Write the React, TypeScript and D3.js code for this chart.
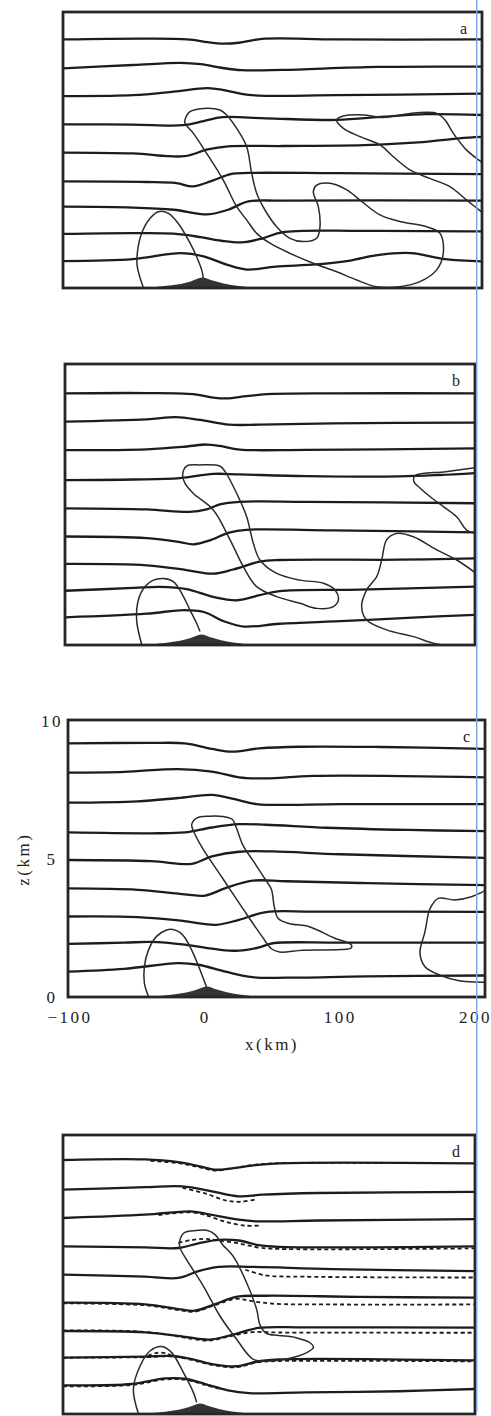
import React from 'react';
import * as d3 from 'd3';

type Pt = [number, number];

// ---------- axes ----------
const X_DOMAIN: [number, number] = [-101.5, 207];
const Z_DOMAIN: [number, number] = [0, 10.05];
const X_TICKS = [-100, 0, 100, 200];
const X_TICK_LABELS = ['−100', '0', '100', '200'];
const Z_TICKS = [0, 5, 10];
const Z_TICK_LABELS = ['0', '5', '10'];
const PANEL_LETTERS = ['a', 'b', 'c', 'd'];

// ---------- terrain (km) ----------
const MOUNTAIN: Pt[] = [[-42, 0], [-35, 0.03], [-25, 0.08], [-15, 0.15], [-7, 0.25], [1, 0.38], [8, 0.28], [16, 0.17], [25, 0.09], [34, 0.04], [42, 0]];

// ---------- panel a ----------
const A_ISEN: Pt[][] = [
  [[-101.5, 9.05], [-40, 9.08], [-10, 9.05], [5, 8.95], [15, 8.9], [28, 8.93], [45, 9.07], [100, 9.05], [207, 9.05]],
  [[-101.5, 8.0], [-50, 8.12], [-15, 8.2], [0, 8.15], [15, 8.02], [30, 7.93], [60, 7.94], [130, 8.05], [207, 8.06]],
  [[-101.5, 6.99], [-50, 7.02], [-20, 7.15], [5, 7.28], [18, 7.2], [35, 7.03], [100, 7.02], [207, 7.08]],
  [[-101.5, 5.96], [-50, 5.95], [-13, 5.93], [2, 6.08], [16, 6.22], [48, 6.18], [100, 6.12], [135, 6.24], [166, 6.33], [207, 6.3]],
  [[-101.5, 4.93], [-50, 4.9], [-12, 4.8], [5, 5.05], [20, 5.16], [60, 5.17], [120, 5.2], [160, 5.3], [190, 5.45], [207, 5.5]],
  [[-101.5, 3.88], [-40, 3.86], [-18, 3.82], [-6, 3.7], [8, 3.9], [22, 4.15], [35, 4.19], [100, 4.18], [207, 4.15]],
  [[-101.5, 2.96], [-50, 2.93], [-20, 2.85], [5, 2.68], [20, 2.85], [35, 3.15], [60, 3.18], [207, 3.18]],
  [[-101.5, 1.97], [-50, 2.0], [-20, 1.98], [0, 1.85], [15, 1.72], [30, 1.66], [45, 1.8], [60, 2.03], [120, 2.08], [207, 2.06]],
  [[-101.5, 0.98], [-50, 1.05], [-15, 1.27], [2, 1.15], [19, 0.85], [34, 0.67], [55, 0.78], [85, 0.86], [110, 1.0], [130, 1.2], [155, 1.27], [180, 1.05], [207, 0.97]],
];
const A_CLOUDS_CLOSED: Pt[][] = [
  [[-11.7, 6.12], [-8, 6.42], [1.8, 6.54], [14.1, 6.48], [19, 6.3], [26.4, 5.81], [33.7, 5.15], [37.4, 4.18], [41.1, 3.45], [47.2, 2.84], [55.8, 2.23], [65.6, 1.81], [75.5, 1.69], [85.3, 1.81], [87.7, 2.23], [86.5, 2.96], [82.8, 3.51], [85.3, 3.75], [95.1, 3.81], [107.4, 3.57], [117.2, 3.2], [131.9, 2.66], [146.6, 2.42], [166.3, 2.23], [176.1, 1.99], [178.5, 1.26], [173.6, 0.66], [161.3, 0.23], [146.6, 0.05], [129.4, 0.05], [114.7, 0.29], [100, 0.59], [82.8, 0.9], [65.6, 1.26], [50.9, 1.63], [41.1, 1.99], [33.7, 2.48], [26.4, 2.96], [16.5, 3.93], [4.3, 4.9], [-5.5, 5.63], [-11.7, 6.0]],
];
const A_CLOUDS_OPEN: Pt[][] = [
  [[-42.4, 0.02], [-46.8, 0.78], [-46.8, 1.26], [-43.6, 1.99], [-37.4, 2.54], [-31.3, 2.78], [-23.9, 2.72], [-16.6, 2.35], [-9.2, 1.75], [-3.1, 1.14], [0.6, 0.66], [1.8, 0.37]],
  [[208, 4.54], [195.7, 5.02], [185.9, 5.63], [179.8, 6.12], [173.6, 6.36], [158.9, 6.38], [146.6, 6.3], [134.4, 6.21], [119.6, 6.3], [104.9, 6.26], [100, 6.12], [104.9, 5.81], [117.2, 5.51], [131.9, 5.21], [141.7, 4.78], [153.9, 4.3], [168.6, 3.99], [183.4, 3.69], [195.7, 3.2], [208, 2.72]],
];

// ---------- panel b ----------
const B_ISEN: Pt[][] = [
  [[-101.5, 9.0], [-40, 9.01], [-5, 8.97], [10, 8.85], [20, 8.82], [35, 8.9], [50, 8.97], [100, 9.0], [207, 9.0]],
  [[-101.5, 7.99], [-40, 8.07], [-18, 8.15], [0, 8.05], [22, 7.88], [45, 7.88], [100, 7.93], [207, 7.95]],
  [[-101.5, 6.97], [-40, 7.0], [-10, 7.1], [5, 7.17], [15, 7.12], [30, 6.99], [80, 6.98], [207, 7.03]],
  [[-101.5, 5.9], [-50, 5.92], [-15, 5.97], [10, 6.12], [30, 6.1], [80, 6.04], [150, 6.03], [180, 6.08], [207, 6.15]],
  [[-101.5, 4.89], [-40, 4.85], [-8, 4.76], [5, 4.85], [15, 5.03], [30, 5.12], [80, 5.12], [207, 5.07]],
  [[-101.5, 3.88], [-40, 3.82], [-15, 3.68], [-5, 3.6], [8, 3.75], [22, 4.02], [35, 4.12], [100, 4.1], [207, 4.03]],
  [[-101.5, 2.9], [-40, 2.85], [-10, 2.68], [10, 2.55], [25, 2.7], [45, 2.98], [60, 3.04], [150, 3.05], [207, 3.1]],
  [[-101.5, 1.94], [-50, 2.04], [-30, 2.08], [-10, 2.0], [10, 1.72], [28, 1.6], [45, 1.78], [60, 1.93], [120, 1.98], [207, 2.09]],
  [[-101.5, 0.99], [-40, 1.12], [-12, 1.25], [3, 1.18], [18, 0.85], [33, 0.66], [60, 0.76], [110, 0.86], [160, 0.98], [207, 1.08]],
];
const B_CLOUDS_CLOSED: Pt[][] = [
  [[-13, 6.08], [-10, 6.4], [0, 6.44], [15, 6.4], [19, 6.2], [27.7, 5.42], [35.2, 4.59], [40.2, 3.64], [45.2, 3.04], [57.8, 2.56], [75.3, 2.32], [92.9, 2.21], [101.7, 1.97], [104.2, 1.61], [100.4, 1.37], [87.9, 1.31], [75.3, 1.49], [57.8, 1.73], [42.7, 2.09], [32.7, 2.8], [22.7, 3.76], [10.1, 4.83], [-4.9, 5.42], [-11.2, 5.78]],
];
const B_CLOUDS_OPEN: Pt[][] = [
  [[-43.8, 0.02], [-47.6, 0.89], [-46.3, 1.61], [-41.3, 2.09], [-35, 2.32], [-27.5, 2.38], [-20, 2.27], [-13.7, 1.85], [-7.4, 1.25], [-2.4, 0.77], [0.1, 0.48]],
  [[208, 6.35], [185, 6.2], [162, 6.06], [161, 5.85], [166, 5.6], [173.1, 5.31], [183.2, 4.95], [193.2, 4.59], [200.7, 4.11], [208, 3.99]],
  [[208, 2.56], [193.2, 3.04], [178.2, 3.4], [160.6, 3.87], [148, 3.99], [140.5, 3.76], [136.8, 3.04], [133, 2.44], [125.5, 1.97], [121.7, 1.37], [125.5, 0.89], [140.5, 0.54], [160.6, 0.3], [175.6, 0.06], [183.2, 0]],
];

// ---------- panel c ----------
const C_ISEN: Pt[][] = [
  [[-101.5, 9.2], [-40, 9.22], [-15, 9.2], [5, 9.0], [20, 8.9], [40, 9.02], [70, 9.08], [130, 9.07], [207, 9.0]],
  [[-101.5, 8.14], [-60, 8.17], [-20, 8.27], [5, 8.18], [25, 7.97], [45, 7.93], [80, 8.02], [207, 7.97]],
  [[-101.5, 7.05], [-50, 7.1], [-20, 7.22], [5, 7.33], [20, 7.2], [38, 7.0], [100, 7.0], [207, 7.0]],
  [[-101.5, 5.97], [-40, 5.94], [-15, 5.97], [5, 6.15], [25, 6.27], [45, 6.25], [90, 6.14], [150, 6.06], [207, 6.02]],
  [[-101.5, 4.97], [-40, 4.93], [-10, 4.83], [5, 5.1], [25, 5.27], [50, 5.28], [100, 5.18], [207, 5.05]],
  [[-101.5, 3.94], [-50, 3.89], [-20, 3.75], [0, 3.68], [15, 3.95], [35, 4.22], [60, 4.2], [120, 4.13], [207, 4.06]],
  [[-101.5, 2.92], [-50, 2.9], [-20, 2.78], [8, 2.62], [25, 2.8], [45, 3.08], [80, 3.1], [207, 3.09]],
  [[-101.5, 1.93], [-60, 1.97], [-40, 2.0], [-15, 1.9], [10, 1.72], [25, 1.68], [40, 1.8], [50, 1.95], [100, 1.97], [207, 1.97]],
  [[-101.5, 0.92], [-60, 1.02], [-20, 1.23], [-5, 1.17], [15, 0.92], [35, 0.72], [60, 0.7], [120, 0.75], [207, 0.78]],
];
const C_CLOUDS_CLOSED: Pt[][] = [
  [[-10, 6.25], [-6, 6.5], [3, 6.56], [13, 6.55], [20, 6.45], [23, 6.15], [28, 5.5], [36, 4.9], [44, 4.3], [49, 3.9], [51, 3.3], [54, 2.85], [62, 2.67], [77, 2.55], [95, 2.15], [108, 1.9], [108, 1.78], [100, 1.72], [72, 1.7], [55, 1.63], [49, 1.75], [42, 2.2], [30, 3.05], [13, 4.3], [-2, 5.4], [-8, 5.95]],
];
const C_CLOUDS_OPEN: Pt[][] = [
  [[-42, 0.02], [-45, 0.5], [-45, 1.1], [-42, 1.7], [-36, 2.2], [-29, 2.42], [-24, 2.45], [-19, 2.35], [-15, 2.15], [-10, 1.7], [-6, 1.25], [-2, 0.75], [1, 0.35]],
  [[208, 3.88], [196.9, 3.64], [184.7, 3.52], [172.4, 3.58], [166.3, 3.2], [162.6, 2.37], [158.9, 1.6], [162.6, 1.1], [174.8, 0.77], [187, 0.6], [199.4, 0.54], [208, 0.54]],
];

// ---------- panel d ----------
const D_ISEN: Pt[][] = [
  [[-101.5, 9.15], [-40, 9.17], [-15, 9.07], [0, 8.93], [13, 8.8], [25, 8.85], [40, 8.95], [60, 9.03], [207, 9.03]],
  [[-101.5, 8.08], [-40, 8.17], [-12, 8.2], [10, 8.02], [30, 7.84], [48, 7.9], [90, 7.96], [207, 8.0]],
  [[-101.5, 7.06], [-40, 7.18], [-6, 7.3], [5, 7.22], [30, 7.0], [43, 6.94], [90, 6.97], [207, 7.02]],
  [[-101.5, 6.04], [-40, 6.0], [-15, 5.98], [0, 6.15], [15, 6.27], [30, 6.25], [45, 6.08], [60, 6.02], [207, 6.04]],
  [[-101.5, 5.02], [-40, 4.95], [-15, 4.9], [0, 5.15], [15, 5.3], [40, 5.3], [100, 5.22], [207, 5.15]],
  [[-101.5, 4.01], [-40, 3.95], [-15, 3.78], [-3, 3.72], [12, 3.95], [28, 4.22], [50, 4.26], [120, 4.22], [207, 4.19]],
  [[-101.5, 2.99], [-40, 2.94], [-10, 2.78], [8, 2.68], [25, 2.85], [45, 3.1], [80, 3.12], [207, 3.11]],
  [[-101.5, 2.03], [-40, 2.07], [-20, 2.09], [-5, 1.98], [10, 1.8], [28, 1.72], [45, 1.9], [60, 1.97], [207, 1.93]],
  [[-101.5, 1.03], [-50, 1.08], [-25, 1.28], [-10, 1.27], [5, 1.08], [22, 0.85], [38, 0.75], [80, 0.78], [150, 0.82], [207, 0.9]],
];
const D_DASHED: Pt[][] = [
  [[-36, 9.17], [-15, 9.09], [0, 8.95], [13, 8.82], [25, 8.9], [40, 9.02], [60, 9.09], [138, 9.09]],
  [[-12, 8.2], [5, 8.0], [20, 7.75], [32, 7.7], [42, 7.78]],
  [[-30, 7.22], [-6, 7.32], [5, 7.22], [20, 6.98], [35, 6.84], [45, 6.84]],
  [[-15, 6.22], [-5, 6.32], [5, 6.36], [15, 6.3], [30, 6.2], [45, 6.05], [60, 6.0], [207, 6.02]],
  [[35, 5.25], [50, 5.05], [80, 5.0], [207, 4.97]],
  [[-101.5, 4.04], [-40, 3.97], [-15, 3.8], [-3, 3.74], [12, 3.97], [28, 4.2], [40, 4.12], [55, 4.03], [100, 4.0], [207, 4.0]],
  [[-101.5, 3.06], [-50, 3.04], [-25, 2.93], [-10, 2.8], [8, 2.7], [25, 2.87], [40, 3.0], [60, 2.99], [207, 2.98]],
  [[-101.5, 2.08], [-40, 2.1], [-20, 2.13], [-5, 2.0], [10, 1.82], [28, 1.74], [45, 1.92], [60, 1.96], [207, 1.95]],
  [[-101.5, 1.05], [-50, 1.1], [-25, 1.3], [-10, 1.29], [5, 1.1], [15, 0.97]],
  [[-38, 2.15], [-32, 2.25], [-25, 2.25], [-20, 2.15]],
];
const D_CLOUDS_CLOSED: Pt[][] = [
  [[-14, 6.25], [-11, 6.52], [-4, 6.6], [6, 6.62], [12, 6.48], [18, 6.1], [26, 5.68], [36, 4.73], [43.5, 3.77], [46, 3.2], [51, 2.9], [60, 2.83], [73, 2.75], [84, 2.55], [86, 2.4], [81, 2.21], [66, 1.98], [53, 1.91], [41, 1.97], [28.5, 2.69], [16, 3.53], [3.6, 4.61], [-9, 5.56], [-14, 6.0]],
];
const D_CLOUDS_OPEN: Pt[][] = [
  [[-45.1, 0.02], [-48.8, 0.9], [-43.8, 1.73], [-36.4, 2.27], [-27.6, 2.43], [-20.1, 2.21], [-11.4, 1.5], [-3.9, 0.78], [-1.4, 0.42]],
];

interface Box { l: number; r: number; t: number; b: number; }
interface PanelSpec {
  letter: string; box: Box; isen: Pt[][]; dashed: Pt[][];
  closed: Pt[][]; open: Pt[][]; axes: boolean;
}

const PANELS: PanelSpec[] = [
  { letter: PANEL_LETTERS[0], box: { l: 63, r: 482, t: 12, b: 288 }, isen: A_ISEN, dashed: [], closed: A_CLOUDS_CLOSED, open: A_CLOUDS_OPEN, axes: false },
  { letter: PANEL_LETTERS[1], box: { l: 65, r: 475, t: 364, b: 645 }, isen: B_ISEN, dashed: [], closed: B_CLOUDS_CLOSED, open: B_CLOUDS_OPEN, axes: false },
  { letter: PANEL_LETTERS[2], box: { l: 68, r: 485, t: 720, b: 997 }, isen: C_ISEN, dashed: [], closed: C_CLOUDS_CLOSED, open: C_CLOUDS_OPEN, axes: true },
  { letter: PANEL_LETTERS[3], box: { l: 63, r: 475, t: 1135, b: 1414 }, isen: D_ISEN, dashed: D_DASHED, closed: D_CLOUDS_CLOSED, open: D_CLOUDS_OPEN, axes: false },
];

const FONT = '"Liberation Serif", "Times New Roman", serif';
const INK = '#1c1c1c';

function Panel({ p, idx }: { p: PanelSpec; idx: number }) {
  const { box } = p;
  const xs = d3.scaleLinear().domain(X_DOMAIN).range([box.l, box.r]);
  const zs = d3.scaleLinear().domain(Z_DOMAIN).range([box.b, box.t]);
  const isenLine = d3.line<Pt>().x(d => xs(d[0])).y(d => zs(d[1])).curve(d3.curveCatmullRom.alpha(0.5));
  const openLine = d3.line<Pt>().x(d => xs(d[0])).y(d => zs(d[1])).curve(d3.curveCatmullRom.alpha(0.5));
  const closedLine = d3.line<Pt>().x(d => xs(d[0])).y(d => zs(d[1])).curve(d3.curveCatmullRomClosed.alpha(0.5));
  const mountainArea = d3.area<Pt>().x(d => xs(d[0])).y0(zs(0)).y1(d => zs(d[1])).curve(d3.curveMonotoneX);
  const clipId = `clip-${idx}`;
  return (
    <g>
      <defs>
        <clipPath id={clipId}>
          <rect x={box.l} y={box.t} width={box.r - box.l} height={box.b - box.t} />
        </clipPath>
      </defs>
      <g clipPath={`url(#${clipId})`}>
        <path d={mountainArea(MOUNTAIN) || ''} fill="#333" />
        {p.isen.map((l, i) => (
          <path key={'i' + i} d={isenLine(l) || ''} fill="none" stroke={INK} strokeWidth={2.3} strokeLinejoin="round" />
        ))}
        {p.dashed.map((l, i) => (
          <path key={'d' + i} d={isenLine(l) || ''} fill="none" stroke={INK} strokeWidth={1.8} strokeDasharray="4 3" transform="translate(0,1.5)" />
        ))}
        {p.closed.map((c, i) => (
          <path key={'c' + i} d={closedLine(c) || ''} fill="none" stroke="#2a2a2a" strokeWidth={1.5} />
        ))}
        {p.open.map((c, i) => (
          <path key={'o' + i} d={openLine(c) || ''} fill="none" stroke="#2a2a2a" strokeWidth={1.5} />
        ))}
      </g>
      <rect x={box.l} y={box.t} width={box.r - box.l} height={box.b - box.t} fill="none" stroke="#262626" strokeWidth={2.8} />
      <text x={box.r - 15} y={box.t + 22} textAnchor="end" fontFamily={FONT} fontSize={16} fill="#222">{p.letter}</text>
      {p.axes && (
        <g fontFamily={FONT} fontSize={17} fill="#222" letterSpacing={2.5}>
          {X_TICKS.map((t, i) => (
            <text key={'xt' + i} x={xs(t)} y={box.b + 26} textAnchor="middle">{X_TICK_LABELS[i]}</text>
          ))}
          {Z_TICKS.map((t, i) => (
            <text key={'zt' + i} x={52} y={zs(t) + 6} textAnchor="middle">{Z_TICK_LABELS[i]}</text>
          ))}
          <text x={272} y={box.b + 53} textAnchor="middle">x(km)</text>
          <text transform={`translate(29,${zs(5)}) rotate(-90)`} textAnchor="middle">z(km)</text>
        </g>
      )}
    </g>
  );
}

export default function App() {
  return (
    <svg width={491} height={1416} viewBox="0 0 491 1416"
      style={{ position: 'absolute', left: 0, top: 0, background: '#fff' }}>
      <rect x={0} y={0} width={491} height={1416} fill="#fff" />
      {PANELS.map((p, i) => <Panel key={i} p={p} idx={i} />)}
      <line x1={476.7} y1={0} x2={476.7} y2={1412} stroke="#7aa6e8" strokeWidth={1.5} />
    </svg>
  );
}
